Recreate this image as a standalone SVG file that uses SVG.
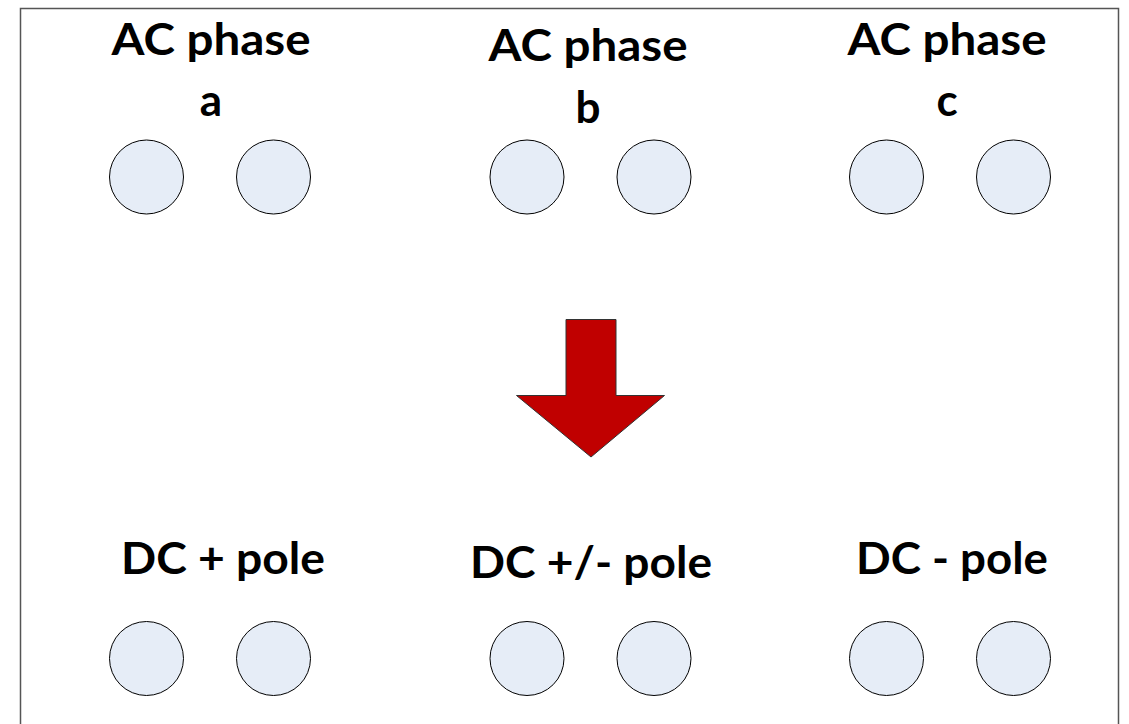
<svg xmlns="http://www.w3.org/2000/svg" width="1129" height="724" viewBox="0 0 1129 724">
<style>
.t{font-family:Lato,"Open Sans","Liberation Sans",sans-serif;font-weight:700;font-size:44px;fill:#000;text-anchor:middle}
.c{fill:#e6edf7;stroke:#000;stroke-width:1}
</style>
<rect x="0" y="0" width="1129" height="724" fill="#fff"/>
<path d="M20.5,730 V8.5 H1118.5 V730" fill="none" stroke="#555" stroke-width="1.5"/>
<g id="ac-a">
<text class="t" x="211" y="55" textLength="199" lengthAdjust="spacingAndGlyphs">AC phase</text>
<text class="t" x="211" y="116">a</text>
<circle class="c" cx="146.5" cy="177" r="37"/>
<circle class="c" cx="273.5" cy="177" r="37"/>
</g>
<g id="ac-b">
<text class="t" x="588" y="61" textLength="199" lengthAdjust="spacingAndGlyphs">AC phase</text>
<text class="t" x="588" y="123">b</text>
<circle class="c" cx="527" cy="177" r="37"/>
<circle class="c" cx="654" cy="177" r="37"/>
</g>
<g id="ac-c">
<text class="t" x="947" y="55" textLength="199" lengthAdjust="spacingAndGlyphs">AC phase</text>
<text class="t" x="947" y="116">c</text>
<circle class="c" cx="886.5" cy="177" r="37"/>
<circle class="c" cx="1013.5" cy="177" r="37"/>
</g>
<g id="arrow">
<polygon points="566,319.5 616,319.5 616,395.5 664.5,395.5 591,457 516.5,395.5 566,395.5" fill="#c00000" stroke="#333" stroke-width="1"/>
</g>
<g id="dc-plus">
<text class="t" x="223" y="574" textLength="204" lengthAdjust="spacingAndGlyphs">DC + pole</text>
<circle class="c" cx="146.5" cy="658.5" r="37"/>
<circle class="c" cx="273.5" cy="658.5" r="37"/>
</g>
<g id="dc-pm">
<text class="t" x="591" y="578" textLength="242" lengthAdjust="spacingAndGlyphs">DC +/- pole</text>
<circle class="c" cx="527" cy="658.5" r="37"/>
<circle class="c" cx="654" cy="658.5" r="37"/>
</g>
<g id="dc-minus">
<text class="t" x="952" y="574" textLength="192" lengthAdjust="spacingAndGlyphs">DC - pole</text>
<circle class="c" cx="886.5" cy="658.5" r="37"/>
<circle class="c" cx="1013.5" cy="658.5" r="37"/>
</g>
<g id="connectors"></g>
</svg>
